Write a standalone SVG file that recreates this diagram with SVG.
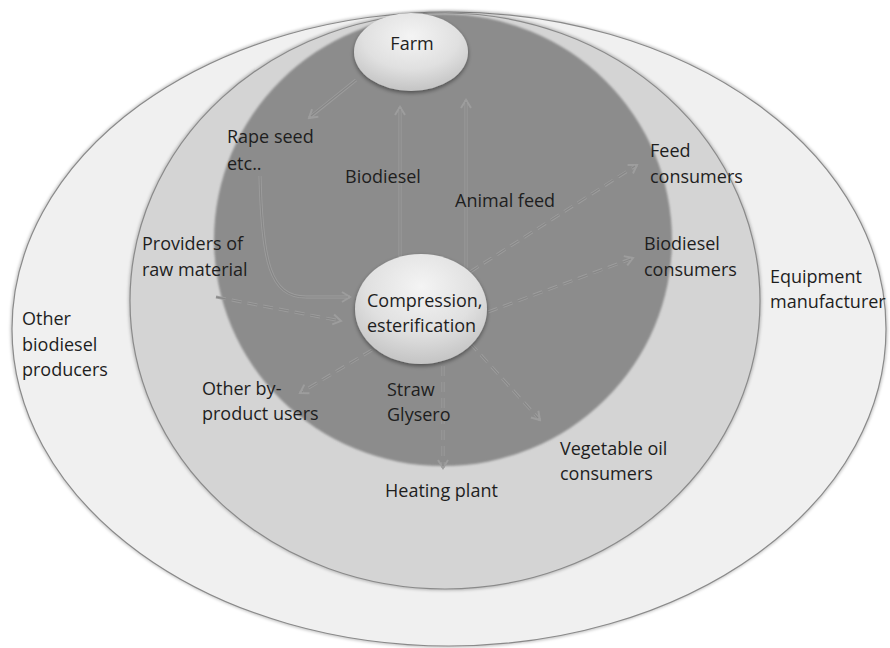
<svg xmlns="http://www.w3.org/2000/svg" width="890" height="648" viewBox="0 0 890 648">
  <defs>
    <style>
      text { font-family: "Open Sans", "Noto Sans", "Liberation Sans", sans-serif; font-size: 18px; fill: #1e1e1e; }
      .ring { stroke: #8a8a8a; stroke-width: 1.2; }
      .halo { fill: none; stroke: #000; stroke-opacity: 0.25; stroke-width: 3; filter: url(#soft); }
      .wire-o { fill: none; stroke: #9d9d9d; stroke-width: 3; }
      .wire-i { fill: none; stroke: #878787; stroke-width: 1.2; }
      .dash { stroke-dasharray: 10 6; }
      .node { fill: url(#nodeGrad); filter: url(#shadow); }
    </style>
    <filter id="soft" x="-5%" y="-5%" width="110%" height="110%">
      <feGaussianBlur stdDeviation="1.5"/>
    </filter>
    <filter id="edge" x="-5%" y="-5%" width="110%" height="110%">
      <feGaussianBlur stdDeviation="1.2"/>
    </filter>
    <filter id="shadow" x="-20%" y="-20%" width="140%" height="150%">
      <feGaussianBlur in="SourceAlpha" stdDeviation="2"/>
      <feOffset dy="2" result="b"/>
      <feComponentTransfer><feFuncA type="linear" slope="0.45"/></feComponentTransfer>
      <feMerge><feMergeNode/><feMergeNode in="SourceGraphic"/></feMerge>
    </filter>
    <radialGradient id="nodeGrad" cx="50%" cy="30%" r="70%">
      <stop offset="0" stop-color="#f4f4f4"/>
      <stop offset="0.6" stop-color="#e0e0e0"/>
      <stop offset="1" stop-color="#c4c4c4"/>
    </radialGradient>
    <marker id="arr" viewBox="-10 -7 12 14" refX="0" refY="0" markerWidth="12" markerHeight="14" markerUnits="userSpaceOnUse" orient="auto">
      <path d="M -8 -5 L 0 0 L -8 5" fill="none" stroke="#9d9d9d" stroke-width="2"/>
    </marker>
  </defs>

  <rect width="890" height="648" fill="#ffffff"/>

  <g id="ring-outer">
    <ellipse cx="449" cy="329" rx="437" ry="317" class="halo"/>
    <ellipse cx="449" cy="329" rx="437" ry="317" fill="#f0f0f0" class="ring"/>
  </g>
  <g id="ring-middle">
    <ellipse cx="445" cy="301" rx="315" ry="288" class="halo"/>
    <ellipse cx="445" cy="301" rx="315" ry="288" fill="#d4d4d4" class="ring"/>
  </g>
  <g id="ring-inner">
    <ellipse cx="443" cy="240" rx="229" ry="226" fill="#8c8c8c" filter="url(#edge)"/>
  </g>

  <g id="connectors">
    <path class="wire-o" d="M 356 80 L 309 118" marker-end="url(#arr)"/>
    <path class="wire-i" d="M 356 80 L 311 116"/>
    <path class="wire-o" d="M 400 256 L 400 107" marker-end="url(#arr)"/>
    <path class="wire-i" d="M 400 256 L 400 109"/>
    <path class="wire-o" d="M 466 268 L 466 100" marker-end="url(#arr)"/>
    <path class="wire-i" d="M 466 268 L 466 102"/>
    <path class="wire-o" d="M 260 176 C 262 262, 270 297, 306 297 L 350 297" marker-end="url(#arr)"/>
    <path class="wire-i" d="M 260 176 C 262 262, 270 297, 306 297 L 348 297"/>
    <path class="wire-o dash" d="M 216 297 L 341 321" marker-end="url(#arr)"/>
    <path class="wire-i dash" d="M 216 297 L 339 320.6"/>
    <path class="wire-o dash" d="M 470 272 L 637 165" marker-end="url(#arr)"/>
    <path class="wire-i dash" d="M 470 272 L 635 166"/>
    <path class="wire-o dash" d="M 488 312 L 633 258" marker-end="url(#arr)"/>
    <path class="wire-i dash" d="M 488 312 L 631 259"/>
    <path class="wire-o dash" d="M 372 350 L 300 393" marker-end="url(#arr)"/>
    <path class="wire-i dash" d="M 372 350 L 302 392"/>
    <path class="wire-o dash" d="M 470 343 L 540 420" marker-end="url(#arr)"/>
    <path class="wire-i dash" d="M 470 343 L 538 418"/>
    <path class="wire-o dash" d="M 443 350 L 443 468" marker-end="url(#arr)"/>
    <path class="wire-i dash" d="M 443 350 L 443 466"/>
  </g>

  <g id="farm">
    <ellipse cx="411" cy="52" rx="57" ry="39" class="node"/>
    <text x="412" y="50" text-anchor="middle">Farm</text>
  </g>
  <g id="compression">
    <ellipse cx="421" cy="309" rx="66" ry="55" class="node"/>
    <text x="367" y="307">Compression,</text>
    <text x="367" y="332">esterification</text>
  </g>

  <g id="label-rape-seed"><text x="227" y="143">Rape seed</text><text x="227" y="170">etc..</text></g>
  <g id="label-biodiesel"><text x="345" y="183">Biodiesel</text></g>
  <g id="label-animal-feed"><text x="455" y="207">Animal feed</text></g>
  <g id="label-feed-consumers"><text x="650" y="157">Feed</text><text x="650" y="183">consumers</text></g>
  <g id="label-biodiesel-consumers"><text x="644" y="250">Biodiesel</text><text x="644" y="276">consumers</text></g>
  <g id="label-equipment"><text x="770" y="283">Equipment</text><text x="770" y="308">manufacturer</text></g>
  <g id="label-providers"><text x="142" y="250">Providers of</text><text x="142" y="276">raw material</text></g>
  <g id="label-other-producers"><text x="22" y="325">Other</text><text x="22" y="351">biodiesel</text><text x="22" y="376">producers</text></g>
  <g id="label-byproduct"><text x="202" y="395">Other by-</text><text x="202" y="420">product users</text></g>
  <g id="label-straw"><text x="387" y="396">Straw</text><text x="387" y="421">Glysero</text></g>
  <g id="label-vegetable"><text x="560" y="455">Vegetable oil</text><text x="560" y="480">consumers</text></g>
  <g id="label-heating"><text x="385" y="497">Heating plant</text></g>
</svg>
